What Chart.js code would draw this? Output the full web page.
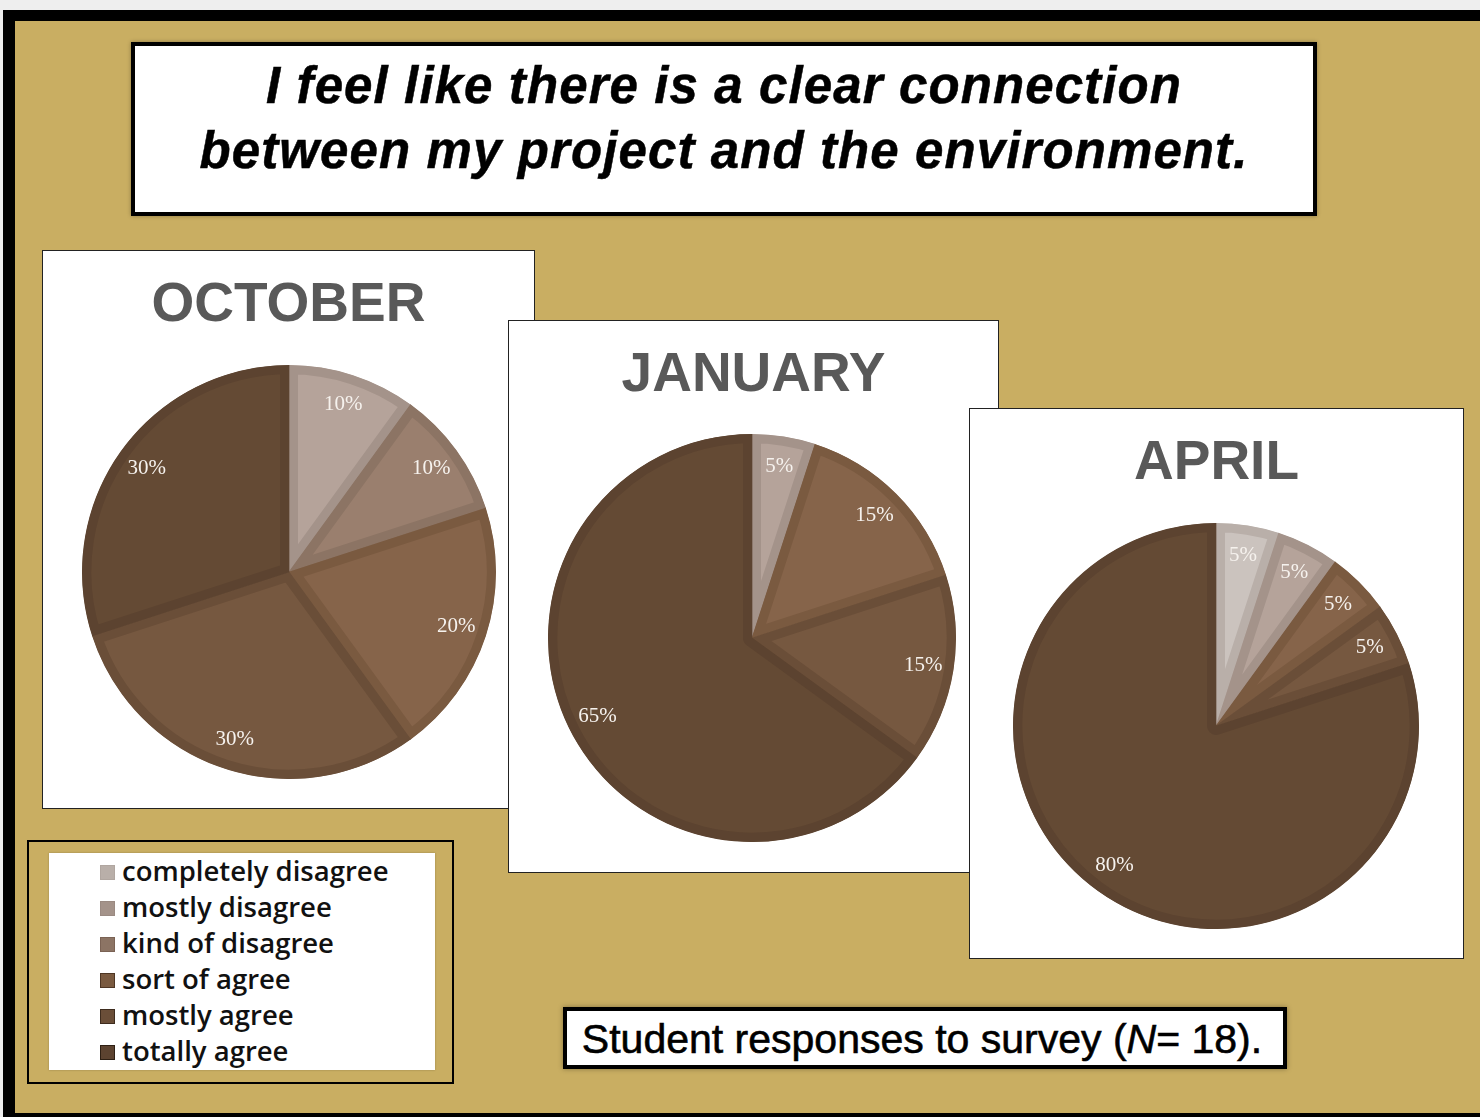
<!DOCTYPE html>
<html>
<head>
<meta charset="utf-8">
<script src="https://cdn.jsdelivr.net/npm/chart.js@4.4.1/dist/chart.umd.min.js"></script>
<style>
    html, body {
        margin: 0;
        padding: 0;
        width: 1480px;
        height: 1117px;
        overflow: hidden;
        background: #eeeeee;
    }
    .frame {
        position: absolute;
        left: 3px;
        top: 10px;
        width: 1520px;
        height: 1092px;
        background: #C9AE62;
        border-left: 12px solid #000;
        border-top: 11px solid #000;
        border-bottom: 4px solid #000;
    }
    .box {
        position: absolute;
        box-sizing: border-box;
        background: #fff;
    }
    .title-box {
        left: 131px; top: 42px; width: 1186px; height: 174px;
        border: 4px solid #000;
        box-shadow: 0 0 4px rgba(0, 0, 0, 0.3);
    }
    .title-text {
        position: absolute;
        left: 131px; top: 53px; width: 1186px;
        text-align: center;
        font: italic bold 51px "Liberation Sans", Arial, sans-serif;
        letter-spacing: 1.1px;
        line-height: 65px;
        color: #000;
        -webkit-text-stroke: 0.5px #000;
    }
    .panel { border: 1.5px solid #222; }
    .month {
        position: absolute;
        text-align: center;
        font: bold 55px "Liberation Sans", Arial, sans-serif;
        line-height: 55px;
        color: #595959;
    }
    .pie { position: absolute; }
    .legend-outer {
        position: absolute;
        left: 27px; top: 840px; width: 427px; height: 244px;
        box-sizing: border-box;
        border: 2px solid #000;
    }
    .legend-inner {
        left: 49px; top: 853px; width: 386px; height: 217px;
        box-shadow: 0 0 2px rgba(0, 0, 0, 0.25);
    }
    .legend-row {
        position: absolute;
        left: 100px;
        height: 36px;
        font: 600 27.5px "Open Sans", sans-serif;
        line-height: 36px;
        color: #111;
        white-space: nowrap;
    }
    .swatch {
        display: inline-block;
        width: 13px; height: 13px;
        margin-right: 7px;
        vertical-align: 1px;
        border: 1px solid;
    }
    .note-box {
        left: 563px; top: 1007px; width: 724px; height: 62px;
        border: 4px solid #000;
        box-shadow: 0 0 5px rgba(0, 0, 0, 0.35);
    }
    .note-text {
        position: absolute;
        left: 563px; top: 1019px; width: 718px;
        text-align: center;
        font: 41px "Liberation Sans", Arial, sans-serif;
        line-height: 41px;
        color: #000;
        -webkit-text-stroke: 0.6px #000;
    }
</style>
</head>
<body>
<div class="frame"></div>

<div class="box title-box"></div>
<div class="title-text">I feel like there is a clear connection<br>between my project and the environment.</div>

<div class="box panel" style="left:42px; top:250px; width:493px; height:559px;"></div>
<div class="month" style="left:42px; top:275px; width:493px;">OCTOBER</div>
<div class="pie" style="left:82px; top:365px; width:414px; height:414px;"><canvas id="octChart"></canvas></div>

<div class="box panel" style="left:508px; top:320px; width:491px; height:553px;"></div>
<div class="month" style="left:508px; top:345px; width:491px;">JANUARY</div>
<div class="pie" style="left:548px; top:434px; width:408px; height:408px;"><canvas id="janChart"></canvas></div>

<div class="box panel" style="left:969px; top:408px; width:495px; height:551px;"></div>
<div class="month" style="left:969px; top:433px; width:495px;">APRIL</div>
<div class="pie" style="left:1013px; top:523px; width:406px; height:406px;"><canvas id="aprChart"></canvas></div>

<div class="legend-outer"></div>
<div class="box legend-inner"></div>
<div id="legend"></div>

<div class="box note-box"></div>
<div class="note-text">Student responses to survey (<i>N</i>= 18).</div>

<script>
// Response categories (legend order)
const categories = ['completely disagree', 'mostly disagree', 'kind of disagree', 'sort of agree', 'mostly agree', 'totally agree'];

// Percent of students per category
const octoberValues = [0, 10, 10, 20, 30, 30];
const januaryValues = [0, 5, 0, 15, 15, 65];
const aprilValues = [5, 5, 0, 5, 5, 80];

// Slice colours: inner fill and darker rim
const fillColors = ['#CBC3BE', '#B5A39A', '#9A7F6E', '#86644A', '#765840', '#644A34'];
const rimColors = ['#B9AFA9', '#A4938A', '#8C7464', '#7A5A40', '#6A4E38', '#5C4330'];
const swatchEdges = ['#B0A6A0', '#9A8A82', '#7A6254', '#4E3624', '#3E2C1E', '#2E2014'];

// Draw the percentage next to the rim of every non-empty slice
const percentLabels = {
    id: 'percentLabels',
    afterDatasetsDraw(chart) {
        const ctx = chart.ctx;
        const values = chart.data.datasets[0].data;
        const meta = chart.getDatasetMeta(0);
        ctx.save();
        ctx.font = '21px "Liberation Serif", "Times New Roman", serif';
        ctx.fillStyle = '#F6F2EE';
        ctx.textAlign = 'center';
        ctx.textBaseline = 'middle';
        meta.data.forEach((arc, i) => {
            if (!values[i]) return;
            const p = arc.getProps(['x', 'y', 'startAngle', 'endAngle', 'outerRadius'], true);
            const mid = (p.startAngle + p.endAngle) / 2;
            const r = p.outerRadius * 0.85;
            ctx.fillText(values[i] + '%', p.x + Math.cos(mid) * r, p.y + Math.sin(mid) * r);
        });
        ctx.restore();
    }
};

function createPie(canvasId, values) {
    const ctx = document.getElementById(canvasId).getContext('2d');
    return new Chart(ctx, {
        type: 'pie',
        data: {
            labels: categories,
            datasets: [{
                data: values,
                backgroundColor: fillColors,
                borderColor: rimColors,
                borderWidth: 9,
                borderAlign: 'inner',
                hoverOffset: 0,
                offset: 0
            }]
        },
        options: {
            responsive: true,
            maintainAspectRatio: false,
            animation: false,
            events: [],
            layout: { padding: 0 },
            plugins: {
                legend: { display: false },
                tooltip: { enabled: false }
            }
        },
        plugins: [percentLabels]
    });
}

// Legend built from the same categories and colours
function buildLegend() {
    const legend = document.getElementById('legend');
    categories.forEach((name, i) => {
        const row = document.createElement('div');
        row.className = 'legend-row';
        row.style.top = (853 + i * 36) + 'px';
        row.innerHTML = `<span class="swatch" style="background:${rimColors[i]}; border-color:${swatchEdges[i]}"></span>${name}`;
        legend.appendChild(row);
    });
}

document.addEventListener('DOMContentLoaded', () => {
    createPie('octChart', octoberValues);
    createPie('janChart', januaryValues);
    createPie('aprChart', aprilValues);
    buildLegend();
});
</script>
</body>
</html>
